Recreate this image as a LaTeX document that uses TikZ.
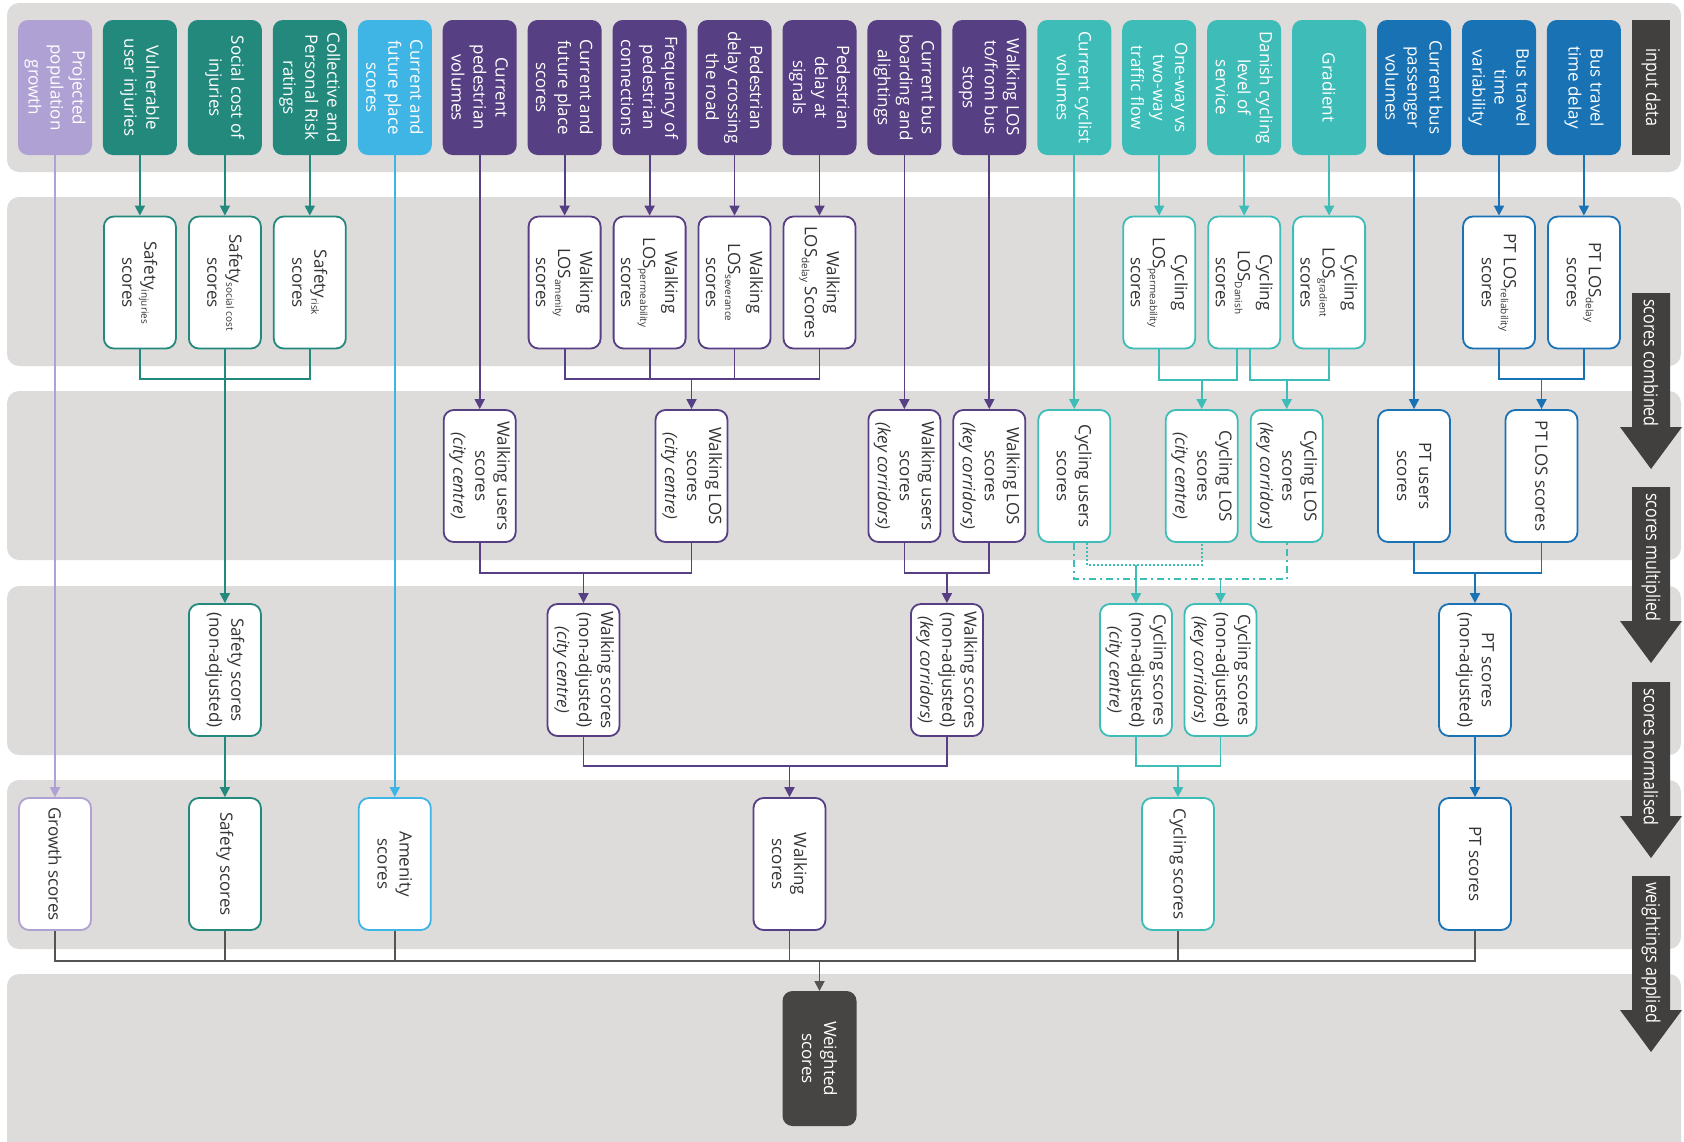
\documentclass[tikz,border=0pt]{standalone}
\usepackage{fontspec}
\setmainfont{Open Sans}
\newfontfamily\condf[FakeStretch=0.85]{Open Sans}
\usetikzlibrary{arrows.meta,calc}
\definecolor{bandC}{HTML}{DEDBDB}
\definecolor{growC}{HTML}{AFA1D3}
\definecolor{safeC}{HTML}{24897D}
\definecolor{amenC}{HTML}{3FB5E6}
\definecolor{walkC}{HTML}{573F84}
\definecolor{cycC}{HTML}{3EBDB8}
\definecolor{ptC}{HTML}{1872B4}
\definecolor{labC}{HTML}{423F3F}
\definecolor{txtC}{HTML}{333333}
\definecolor{finC}{HTML}{555353}
\definecolor{wtC}{HTML}{474444}
\newcommand{\sbs}[1]{\raisebox{-3pt}{\fontsize{10}{10}\selectfont #1}}
\newcommand{\mkbox}[6]{%
  \node[#2] (#1) at (#4,#5) {};
  \node[rt,text=#3] (#1t) at (#1.center) {#6};}
\begin{document}
\begin{tikzpicture}[x=1pt,y=-1pt,
  inbox/.style={fill=#1, rounded corners=10pt, minimum width=74pt, minimum height=135pt, inner sep=0pt, outer sep=0pt},
  wbox/.style={draw=#1, fill=white, line width=1.8pt, rounded corners=10pt, minimum width=72pt, minimum height=132pt, inner sep=0pt},
  rt/.style={rotate=-90, align=center, inner sep=0pt, font=\fontsize{17}{22}\selectfont},
  ln/.style={draw=#1, line width=1.8pt},
  ar/.style={-{Triangle[width=10pt,length=10pt]}},
  lab/.style={rotate=-90, text=white, inner sep=0pt, font=\condf\fontsize{19}{19}\selectfont},
]
\useasboundingbox (0,0) rectangle (1684,1141);
% bands
\begin{scope}
\clip (0,0) rectangle (1684,1141);
\foreach \t in {3,197,391,586,780}{\fill[bandC, rounded corners=12pt] (7,\t) rectangle (1681,\t+169);}
\fill[bandC, rounded corners=12pt] (7,974) rectangle (1681,1175);
\end{scope}
% right-hand labels
\fill[labC] (1632,20) rectangle (1670,155);
\node[lab] (lab0) at (1651,87.5) {input data};
\foreach \t/\s [count=\k] in {293/scores combined, 487/scores multiplied, 682/scores normalised, 876/weightings applied}{
  \fill[labC] (1632,\t) -- (1670,\t) -- (1670,\t+134) -- (1682,\t+134) -- (1651,\t+176) -- (1620,\t+134) -- (1632,\t+134) -- cycle;
  \node[lab, anchor=west] (lab\k) at (1651,\t+6) {\s};
}
% input data
\mkbox{i0}{inbox=growC}{white}{55}{87.5}{Projected\\population\\growth}
\mkbox{i1}{inbox=safeC}{white}{139.9}{87.5}{Vulnerable\\user injuries}
\mkbox{i2}{inbox=safeC}{white}{224.9}{87.5}{Social cost of\\injuries}
\mkbox{i3}{inbox=safeC}{white}{309.8}{87.5}{Collective and\\Personal Risk\\ratings}
\mkbox{i4}{inbox=amenC}{white}{394.8}{87.5}{Current and\\future place\\scores}
\mkbox{i5}{inbox=walkC}{white}{479.7}{87.5}{Current\\pedestrian\\volumes}
\mkbox{i6}{inbox=walkC}{white}{564.6}{87.5}{Current and\\future place\\scores}
\mkbox{i7}{inbox=walkC}{white}{649.6}{87.5}{Frequency of\\pedestrian\\connections}
\mkbox{i8}{inbox=walkC}{white}{734.5}{87.5}{Pedestrian\\delay crossing\\the road}
\mkbox{i9}{inbox=walkC}{white}{819.5}{87.5}{Pedestrian\\delay at\\signals}
\mkbox{i10}{inbox=walkC}{white}{904.4}{87.5}{Current bus\\boarding and\\alightings}
\mkbox{i11}{inbox=walkC}{white}{989.3}{87.5}{Walking LOS\\to/from bus\\stops}
\mkbox{i12}{inbox=cycC}{white}{1074.3}{87.5}{Current cyclist\\volumes}
\mkbox{i13}{inbox=cycC}{white}{1159.2}{87.5}{One-way vs\\two-way\\traffic flow}
\mkbox{i14}{inbox=cycC}{white}{1244.2}{87.5}{Danish cycling\\level of\\service}
\mkbox{i15}{inbox=cycC}{white}{1329.1}{87.5}{Gradient}
\mkbox{i16}{inbox=ptC}{white}{1414.0}{87.5}{Current bus\\passenger\\volumes}
\mkbox{i17}{inbox=ptC}{white}{1499.0}{87.5}{Bus travel\\time\\variability}
\mkbox{i18}{inbox=ptC}{white}{1583.9}{87.5}{Bus travel\\time delay}
% scores combined
\mkbox{s1}{wbox=safeC}{txtC}{139.9}{282.5}{Safety\sbs{injuries}\\scores}
\mkbox{s2}{wbox=safeC}{txtC}{224.9}{282.5}{Safety\sbs{social cost}\\scores}
\mkbox{s3}{wbox=safeC}{txtC}{309.8}{282.5}{Safety\sbs{risk}\\scores}
\mkbox{wl6}{wbox=walkC}{txtC}{564.6}{282.5}{Walking\\LOS\sbs{amenity}\\scores}
\mkbox{wl7}{wbox=walkC}{txtC}{649.6}{282.5}{Walking\\LOS\sbs{permeability}\\scores}
\mkbox{wl8}{wbox=walkC}{txtC}{734.5}{282.5}{Walking\\LOS\sbs{severance}\\scores}
\mkbox{wl9}{wbox=walkC}{txtC}{819.5}{282.5}{Walking\\LOS\sbs{delay} Scores}
\mkbox{cl13}{wbox=cycC}{txtC}{1159.2}{282.5}{Cycling\\LOS\sbs{permeability}\\scores}
\mkbox{cl14}{wbox=cycC}{txtC}{1244.2}{282.5}{Cycling\\LOS\sbs{Danish}\\scores}
\mkbox{cl15}{wbox=cycC}{txtC}{1329.1}{282.5}{Cycling\\LOS\sbs{gradient}\\scores}
\mkbox{pl17}{wbox=ptC}{txtC}{1499.0}{282.5}{PT LOS\sbs{reliability}\\scores}
\mkbox{pl18}{wbox=ptC}{txtC}{1583.9}{282.5}{PT LOS\sbs{delay}\\scores}
% scores multiplied
\mkbox{wuc}{wbox=walkC}{txtC}{479.7}{476}{Walking users\\scores\\\textit{(city centre)}}
\mkbox{wlc}{wbox=walkC}{txtC}{691.5}{476}{Walking LOS\\scores\\\textit{(city centre)}}
\mkbox{wuk}{wbox=walkC}{txtC}{904.4}{476}{Walking users\\scores\\\textit{(key corridors)}}
\mkbox{wlk}{wbox=walkC}{txtC}{989.3}{476}{Walking LOS\\scores\\\textit{(key corridors)}}
\mkbox{cu}{wbox=cycC}{txtC}{1074.3}{476}{Cycling users\\scores}
\mkbox{clc}{wbox=cycC}{txtC}{1201.7}{476}{Cycling LOS\\scores\\\textit{(city centre)}}
\mkbox{clk}{wbox=cycC}{txtC}{1286.7}{476}{Cycling LOS\\scores\\\textit{(key corridors)}}
\mkbox{pu}{wbox=ptC}{txtC}{1414.0}{476}{PT users\\scores}
\mkbox{plos}{wbox=ptC}{txtC}{1541.5}{476}{PT LOS scores}
% scores normalised
\mkbox{sn}{wbox=safeC}{txtC}{224.9}{670}{Safety scores\\(non-adjusted)}
\mkbox{wnc}{wbox=walkC}{txtC}{583.5}{670}{Walking scores\\(non-adjusted)\\\textit{(city centre)}}
\mkbox{wnk}{wbox=walkC}{txtC}{946.9}{670}{Walking scores\\(non-adjusted)\\\textit{(key corridors)}}
\mkbox{cnc}{wbox=cycC}{txtC}{1136}{670}{Cycling scores\\(non-adjusted)\\\textit{(city centre)}}
\mkbox{cnk}{wbox=cycC}{txtC}{1220.5}{670}{Cycling scores\\(non-adjusted)\\\textit{(key corridors)}}
\mkbox{pn}{wbox=ptC}{txtC}{1475}{670}{PT scores\\(non-adjusted)}
% weightings
\mkbox{gs}{wbox=growC}{txtC}{55}{864}{Growth scores}
\mkbox{ss}{wbox=safeC}{txtC}{224.9}{864}{Safety scores}
\mkbox{as}{wbox=amenC}{txtC}{394.8}{864}{Amenity\\scores}
\mkbox{ws}{wbox=walkC}{txtC}{789.5}{864}{Walking\\scores}
\mkbox{cs}{wbox=cycC}{txtC}{1178}{864}{Cycling scores}
\mkbox{ps}{wbox=ptC}{txtC}{1475}{864}{PT scores}
% weighted
\mkbox{wt}{inbox=wtC}{white}{819.5}{1058.5}{Weighted\\scores}
% connectors: input -> combined
\foreach \a/\b in {i1/s1,i2/s2,i3/s3}{\draw[ln=safeC,ar] (\a.south) -- (\b.north);}
\foreach \a/\b in {i6/wl6,i7/wl7,i8/wl8,i9/wl9}{\draw[ln=walkC,ar] (\a.south) -- (\b.north);}
\foreach \a/\b in {i13/cl13,i14/cl14,i15/cl15}{\draw[ln=cycC,ar] (\a.south) -- (\b.north);}
\foreach \a/\b in {i17/pl17,i18/pl18}{\draw[ln=ptC,ar] (\a.south) -- (\b.north);}
% long direct lines
\draw[ln=growC,ar] (i0.south) -- (gs.north);
\draw[ln=amenC,ar] (i4.south) -- (as.north);
\draw[ln=walkC,ar] (i5.south) -- (wuc.north);
\draw[ln=walkC,ar] (i10.south) -- (wuk.north);
\draw[ln=walkC,ar] (i11.south) -- (wlk.north);
\draw[ln=cycC,ar] (i12.south) -- (cu.north);
\draw[ln=ptC,ar] (i16.south) -- (pu.north);
% combined -> multiplied
\coordinate (js) at (224.9,379);
\draw[ln=safeC] (s1.south) |- (js) -| (s3.south);
\draw[ln=safeC] (s2.south) -- (js);
\draw[ln=safeC,ar] (js) -- (sn.north);
\coordinate (jw) at (691.5,379);
\draw[ln=walkC] (wl6.south) |- (jw) -| (wl9.south);
\draw[ln=walkC] (wl7.south) -- (wl7.south |- jw);
\draw[ln=walkC] (wl8.south) -- (wl8.south |- jw);
\draw[ln=walkC,ar] (jw) -- (wlc.north);
\coordinate (jc1) at (1201.7,380);
\coordinate (jc2) at (1286.7,380);
\draw[ln=cycC] (cl13.south) |- (jc1) -| ($(cl14.south)+(-7,0)$);
\draw[ln=cycC,ar] (jc1) -- (clc.north);
\draw[ln=cycC] ($(cl14.south)+(6,0)$) |- (jc2) -| (cl15.south);
\draw[ln=cycC,ar] (jc2) -- (clk.north);
\coordinate (jp) at (1541.5,379);
\draw[ln=ptC] (pl17.south) |- (jp) -| (pl18.south);
\draw[ln=ptC,ar] (jp) -- (plos.north);
% multiplied -> normalised
\coordinate (jw2) at (583.5,573);
\draw[ln=walkC] (wuc.south) |- (jw2) -| (wlc.south);
\draw[ln=walkC,ar] (jw2) -- (wnc.north);
\coordinate (jw3) at (946.9,573);
\draw[ln=walkC] (wuk.south) |- (jw3) -| (wlk.south);
\draw[ln=walkC,ar] (jw3) -- (wnk.north);
\coordinate (jd) at (1136,565);
\draw[ln=cycC, dash pattern=on 1.7pt off 2.3pt] ($(cu.south)+(13,0)$) |- (jd) -| (clc.south);
\draw[ln=cycC,ar] (jd) -- (cnc.north);
\coordinate (jdd) at (1220.5,579);
\draw[ln=cycC, dash pattern=on 7pt off 4pt on 2pt off 4pt] (cu.south) |- (jdd) -| (clk.south);
\draw[ln=cycC,ar] (jdd) -- (cnk.north);
\coordinate (jp2) at (1475,573);
\draw[ln=ptC] (pu.south) |- (jp2) -| (plos.south);
\draw[ln=ptC,ar] (jp2) -- (pn.north);
% normalised -> weightings
\draw[ln=safeC,ar] (sn.south) -- (ss.north);
\coordinate (jw4) at (789.5,766);
\draw[ln=walkC] (wnc.south) |- (jw4) -| (wnk.south);
\draw[ln=walkC,ar] (jw4) -- (ws.north);
\coordinate (jc4) at (1178,766);
\draw[ln=cycC] (cnc.south) |- (jc4) -| (cnk.south);
\draw[ln=cycC,ar] (jc4) -- (cs.north);
\draw[ln=ptC,ar] (pn.south) -- (ps.north);
% weightings -> weighted
\coordinate (jf) at (819.5,961);
\draw[ln=finC] (gs.south) |- (jf) -| (ps.south);
\foreach \n in {ss,as,ws,cs}{\draw[ln=finC] (\n.south) -- (\n.south |- jf);}
\draw[ln=finC,ar] (jf) -- (wt.north);
\end{tikzpicture}
\end{document}
